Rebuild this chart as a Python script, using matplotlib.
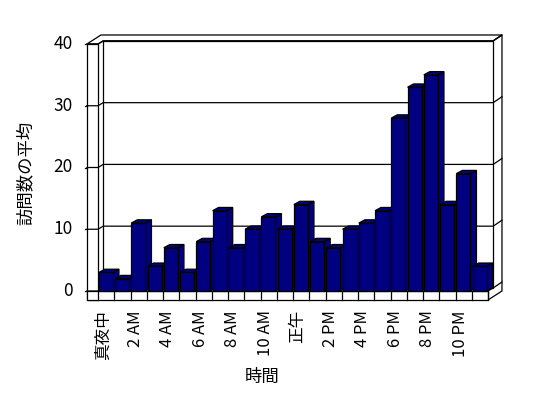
import numpy as np
import matplotlib
matplotlib.use("Agg")
import matplotlib.pyplot as plt
from matplotlib.patches import Polygon

plt.rcParams['font.family'] = ['Noto Sans CJK JP', 'DejaVu Sans']

# data
hours = list(range(24))
visits = [3, 2, 11, 4, 7, 3, 8, 13, 7, 10, 12, 10, 14, 8, 7, 10, 11, 13, 28, 33, 35, 14, 19, 4]
tick_pos = list(range(0, 24, 2))
tick_labels = ['真夜中', '2 AM', '4 AM', '6 AM', '8 AM', '10 AM',
               '正午', '2 PM', '4 PM', '6 PM', '8 PM', '10 PM']
y_ticks = [0, 10, 20, 30, 40]
x_title = '時間'
y_title = '訪問数の平均'

# pseudo-3d geometry (category / value units)
L0, L1 = -1.18, -0.5          # left wall outer / inner at front plane
R1 = len(hours) - 0.5         # right edge of floor at front plane
Y0 = -1.46                    # floor bottom
YT = 40
d1 = (0.32, 0.5)              # inner back wall offset
d2 = (0.86, 1.46)             # outer back wall offset
bd = (0.37, 0.53)             # bar depth
bw = 0.87
navy = '#000080'
lw = 0.9

fig = plt.figure(figsize=(5.48, 3.98), dpi=100)
ax = fig.add_axes([0, 0, 1, 1])
ax.set_xlim(-0.5 - 98 / 16.25, -0.5 + 450 / 16.25)
ax.set_ylim(-107 / 6.175, 291 / 6.175)
ax.axis('off')

def poly(pts, fc='white', z=1):
    ax.add_patch(Polygon(pts, closed=True, facecolor=fc, edgecolor='black',
                         linewidth=lw, zorder=z, joinstyle='miter'))

# back wall slab (top face and right end face)
poly([(L0, YT), (L0 + d2[0], YT + d2[1]), (R1 + d2[0], YT + d2[1]),
      (R1 + d1[0], YT + d1[1]), (L1 + d1[0], YT + d1[1]), (L1, YT)], z=1)
poly([(R1 + d1[0], YT + d1[1]), (R1 + d2[0], YT + d2[1]),
      (R1 + d2[0], Y0 + d2[1]), (R1, Y0), (R1, 0), (R1 + d1[0], d1[1])], z=1)
# back wall inner face
poly([(L1 + d1[0], d1[1]), (L1 + d1[0], YT + d1[1]),
      (R1 + d1[0], YT + d1[1]), (R1 + d1[0], d1[1])], z=1)
# left wall front face
poly([(L0, Y0), (L0, YT), (L1, YT), (L1, Y0)], z=1)

# gridlines across the walls
for v in y_ticks:
    xs = [L0, L1, L1 + d1[0], R1 + d1[0], R1 + d2[0]]
    ys = [v, v, v + d1[1], v + d1[1], v + d2[1]]
    ax.plot(xs, ys, color='black', lw=lw, zorder=1.5)
    ax.plot([L0 - 0.15, L0], [v, v], color='black', lw=lw, zorder=1.5)
    ax.text(-2.04, v, str(v), ha='right', va='center', fontsize=12.5)

# floor front face with category cells
poly([(L0, Y0), (L0, 0), (R1, 0), (R1, Y0)], z=1.6)
for e in np.arange(-0.5, R1 + 0.01, 1.0):
    ax.plot([e, e], [Y0, 0], color='black', lw=lw, zorder=1.7)

# bars, drawn left to right so each one covers the side of the previous
x = np.array(hours, dtype=float)
bars = ax.bar(x - 0.45, visits, width=bw, align='edge', color=navy,
              edgecolor='black', linewidth=lw)
for i, (b, v) in enumerate(zip(bars, visits)):
    z = 3 + i * 0.01
    left = b.get_x()
    right = left + b.get_width()
    poly([(right, 0), (right + bd[0], bd[1]), (right + bd[0], v + bd[1]), (right, v)],
         fc=navy, z=z)
    poly([(left, v), (left + bd[0], v + bd[1]), (right + bd[0], v + bd[1]), (right, v)],
         fc=navy, z=z)
    b.set_zorder(z + 0.005)

# category labels
for p, lab in zip(tick_pos, tick_labels):
    ax.text(p - 0.2, -3.1, lab, rotation=90, ha='center', va='top', fontsize=12)

ax.text(-4.96, 19.1, y_title, rotation=90, ha='center', va='center', fontsize=12.5)
ax.text(9.57, -13.9, x_title, ha='center', va='center', fontsize=12.5)

fig.savefig('out.png', dpi=100)
